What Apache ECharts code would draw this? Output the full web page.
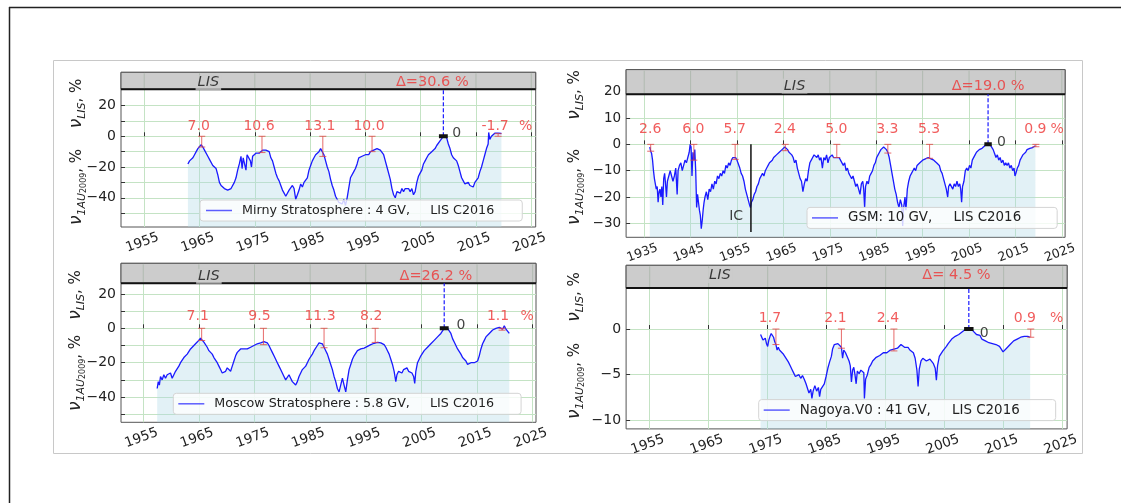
<!DOCTYPE html>
<html>
<head>
<meta charset="utf-8">
<script src="https://cdn.jsdelivr.net/npm/echarts@6/dist/echarts.min.js"></script>
<style>
  html, body { margin: 0; padding: 0; background: #fff; }
  #chart { width: 1121px; height: 503px; }
</style>
</head>
<body>
<div id="chart"></div>
<script>
// ---- Station series: [year, variation relative to 2009 at 1 AU, %] ----
const mirnyMonthly = [
  [1962.9,-18],[1963.2,-16],[1963.5,-17],[1963.8,-14],[1964.1,-12],[1964.4,-10],[1964.7,-8],[1965.0,-8],[1965.3,-5.5],[1965.6,-7],
  [1965.9,-9],[1966.2,-10],[1966.5,-13],[1966.8,-15],[1967.1,-16],[1967.4,-19],[1967.7,-18],[1968.0,-21],[1968.3,-25],[1968.6,-30],
  [1968.9,-32],[1969.2,-31],[1969.5,-34],[1969.8,-33],[1970.1,-35],[1970.4,-36],[1970.7,-34],[1971.0,-33],[1971.3,-30],[1971.6,-27],
  [1971.9,-22],[1972.2,-18],[1972.5,-13],[1972.7,-21],[1972.9,-14],[1973.2,-13],[1973.4,-22],[1973.6,-12],[1973.9,-13],[1974.2,-16],
  [1974.4,-20],[1974.6,-13],[1974.9,-12],[1975.2,-11],[1975.5,-10],[1975.8,-11],[1976.1,-10],[1976.4,-9],[1976.7,-8.5],[1977.0,-9],
  [1977.3,-9],[1977.6,-10],[1977.9,-14],[1978.2,-16],[1978.5,-20],[1978.8,-24],[1979.1,-27],[1979.4,-29],[1979.7,-32],[1980.0,-35],
  [1980.3,-37],[1980.6,-39],[1980.9,-38],[1981.2,-35],[1981.5,-36],[1981.8,-32],[1982.1,-34],[1982.4,-41],[1982.7,-38],[1983.0,-35],
  [1983.3,-31],[1983.6,-33],[1983.9,-30],[1984.2,-31],[1984.5,-27],[1984.8,-22],[1985.1,-19],[1985.4,-16],[1985.7,-14],[1986.0,-12],
  [1986.3,-11],[1986.6,-10],[1986.9,-8],[1987.2,-9],[1987.5,-12],[1987.8,-16],[1988.1,-20],[1988.4,-23],[1988.7,-28],[1989.0,-32],
  [1989.3,-35],[1989.6,-39],[1989.9,-41],[1990.2,-43],[1990.5,-42],[1990.8,-44],[1991.1,-41],[1991.4,-45],[1991.7,-40],[1992.0,-39],
  [1992.3,-27],[1992.6,-26],[1992.9,-23],[1993.2,-21],[1993.5,-18],[1993.8,-14],[1994.1,-13],[1994.4,-13],[1994.7,-12],[1995.0,-12],
  [1995.3,-11],[1995.6,-12],[1995.9,-10],[1996.2,-10],[1996.5,-9],[1996.8,-9],[1997.1,-8],[1997.4,-7],[1997.7,-9],[1998.0,-10],
  [1998.3,-12],[1998.6,-16],[1998.9,-20],[1999.2,-21],[1999.5,-28],[1999.8,-34],[2000.1,-38],[2000.4,-40],[2000.7,-36],[2001.0,-35],
  [2001.3,-37],[2001.6,-34],[2001.9,-36],[2002.2,-34],[2002.5,-35],[2002.8,-34],[2003.1,-36],[2003.4,-34],[2003.7,-38],[2004.0,-36],
  [2004.3,-30],[2004.6,-26],[2004.9,-24],[2005.2,-22],[2005.5,-18],[2005.8,-16],[2006.1,-14],[2006.4,-12],[2006.7,-11],[2007.0,-10],
  [2007.3,-10],[2007.6,-8],[2007.9,-6],[2008.2,-5],[2008.5,-3],[2008.8,-1.5],[2009.1,0],[2009.4,-0.5],[2009.7,-1],[2010.0,-5],
  [2010.3,-8],[2010.6,-12],[2010.9,-14],[2011.2,-15],[2011.5,-16],[2011.8,-19],[2012.1,-23],[2012.4,-27],[2012.7,-29],[2013.0,-31],
  [2013.3,-32],[2013.6,-30],[2013.9,-32],[2014.2,-31],[2014.5,-33],[2014.8,-30],[2015.1,-31],[2015.4,-27],[2015.7,-23],[2016.0,-20],
  [2016.3,-16],[2016.6,-12],[2016.9,-8],[2017.2,-5],[2017.3,2.5],[2017.5,-2],[2017.8,0],[2018.1,1],[2018.4,2],[2018.7,1],
  [2019.0,2],[2019.3,1.5],[2019.6,1.8]
];

const gsmMonthly = [
  [1936.2,-1],[1936.4,-2.6],[1936.6,-3.5],[1936.8,-6],[1937.0,-10],[1937.2,-13],[1937.4,-15],[1937.6,-17],[1937.8,-16],[1938.0,-22],
  [1938.2,-18],[1938.4,-17],[1938.6,-20],[1938.8,-16],[1939.0,-23],[1939.2,-13],[1939.4,-11],[1939.6,-15],[1939.8,-20],[1940.0,-14],
  [1940.3,-12],[1940.6,-10],[1940.9,-12],[1941.2,-14],[1941.5,-12],[1941.8,-9],[1942.1,-19],[1942.3,-10],[1942.6,-8],[1942.9,-7],
  [1943.2,-10],[1943.5,-8],[1943.8,-6],[1944.1,-7],[1944.4,-5],[1944.7,-3],[1944.9,0],[1945.1,-1],[1945.3,-12],[1945.5,-3],
  [1945.7,-6],[1945.9,-2],[1946.1,-10],[1946.3,-24],[1946.5,-19],[1946.7,-22],[1946.9,-25],[1947.1,-27],[1947.3,-32],[1947.5,-29],
  [1947.7,-25],[1947.9,-22],[1948.1,-20],[1948.4,-18],[1948.7,-21],[1949.0,-17],[1949.3,-18],[1949.6,-15],[1949.9,-17],[1950.2,-14],
  [1950.5,-15],[1950.8,-12],[1951.1,-13],[1951.4,-11],[1951.7,-12],[1952.0,-10],[1952.3,-11],[1952.6,-8],[1952.9,-9],[1953.2,-7],
  [1953.5,-8],[1953.8,-6],[1954.1,-5],[1954.4,-4.5],[1954.7,-5],[1955.0,-6],[1955.3,-6],[1955.6,-9],[1955.9,-11],[1956.2,-12],
  [1956.5,-14],[1956.8,-17],[1957.1,-19],[1957.4,-21],[1957.7,-23],[1957.9,-24],[1958.1,-22],[1958.4,-21],[1958.7,-19],[1959.0,-18],
  [1959.3,-16],[1959.6,-15],[1959.9,-13],[1960.2,-13],[1960.5,-11],[1960.8,-12],[1961.1,-10],[1961.4,-9],[1961.7,-8],[1962.0,-7],
  [1962.3,-7],[1962.6,-6],[1962.9,-5],[1963.2,-5],[1963.5,-4],[1963.8,-4],[1964.1,-3],[1964.4,-3],[1964.7,-2],[1965.0,-2],
  [1965.3,-1],[1965.6,-1.5],[1965.9,-2],[1966.2,-3],[1966.5,-2.5],[1966.8,-4],[1967.1,-5],[1967.4,-7],[1967.7,-6],[1968.0,-9],
  [1968.3,-11],[1968.6,-13],[1968.9,-14],[1969.2,-18],[1969.5,-15],[1969.8,-13],[1970.1,-14],[1970.4,-10],[1970.7,-7],[1971.0,-6],
  [1971.3,-5],[1971.6,-4],[1971.9,-4.5],[1972.2,-5],[1972.5,-4],[1972.8,-6],[1973.1,-5],[1973.4,-9],[1973.7,-5],[1974.0,-6],
  [1974.3,-4],[1974.6,-7],[1974.9,-5],[1975.2,-5],[1975.5,-4],[1975.8,-5],[1976.1,-5],[1976.4,-5],[1976.7,-4.5],[1977.0,-5],
  [1977.3,-6],[1977.6,-6],[1977.9,-8],[1978.2,-7],[1978.5,-10],[1978.8,-9],[1979.1,-11],[1979.4,-12],[1979.7,-13],[1980.0,-12],
  [1980.3,-14],[1980.6,-16],[1980.9,-15],[1981.2,-17],[1981.5,-19],[1981.8,-15],[1982.1,-14],[1982.3,-17],[1982.5,-24],[1982.7,-16],
  [1983.0,-14],[1983.3,-15],[1983.6,-12],[1983.9,-11],[1984.2,-10],[1984.5,-8],[1984.8,-7],[1985.1,-5],[1985.4,-4],[1985.7,-3],
  [1986.0,-2],[1986.3,-1.5],[1986.6,-1],[1986.9,-1.5],[1987.2,-2],[1987.5,-3],[1987.8,-5],[1988.1,-8],[1988.4,-11],[1988.7,-14],
  [1989.0,-17],[1989.3,-19],[1989.6,-22],[1989.9,-24],[1990.2,-21],[1990.5,-23],[1990.7,-31],[1990.9,-24],[1991.2,-20],[1991.4,-25],
  [1991.7,-17],[1992.0,-14],[1992.3,-12],[1992.6,-11],[1992.9,-10],[1993.2,-9],[1993.5,-10],[1993.8,-8],[1994.1,-8],[1994.4,-7],
  [1994.7,-7],[1995.0,-6],[1995.3,-6],[1995.6,-5.5],[1995.9,-5],[1996.2,-5],[1996.5,-5],[1996.8,-5.5],[1997.1,-5.5],[1997.4,-6],
  [1997.7,-6],[1998.0,-7],[1998.3,-7],[1998.6,-8],[1998.9,-10],[1999.2,-11],[1999.5,-13],[1999.8,-15],[2000.1,-17],[2000.4,-20],
  [2000.6,-16],[2000.9,-15],[2001.2,-15],[2001.5,-17],[2001.8,-15],[2002.1,-16],[2002.4,-14],[2002.7,-16],[2003.0,-15],[2003.2,-17],
  [2003.4,-22],[2003.6,-16],[2003.9,-14],[2004.2,-10],[2004.5,-9],[2004.8,-10],[2005.1,-8],[2005.4,-9],[2005.7,-6],[2006.0,-6],
  [2006.3,-4],[2006.6,-3],[2006.9,-3.5],[2007.2,-2],[2007.5,-2.5],[2007.8,-1.5],[2008.1,-1],[2008.4,-0.5],[2008.7,-0.5],[2009.0,0],
  [2009.3,0.2],[2009.6,-0.3],[2009.9,-0.5],[2010.2,-2],[2010.5,-3.5],[2010.8,-5],[2011.1,-4],[2011.4,-6],[2011.7,-5],[2012.0,-7],
  [2012.3,-6],[2012.6,-8],[2012.9,-7],[2013.2,-8],[2013.5,-7],[2013.8,-9],[2014.1,-8],[2014.4,-10],[2014.7,-9],[2014.9,-12],
  [2015.1,-11],[2015.4,-9],[2015.7,-8],[2016.0,-6],[2016.3,-5],[2016.6,-4],[2016.9,-3.5],[2017.2,-3],[2017.5,-2],[2017.8,-2],
  [2018.1,-1.5],[2018.4,-1],[2018.7,-1.2],[2019.0,-0.8],[2019.3,-0.5]
];

const moscowMonthly = [
  [1957.5,-35],[1957.7,-31],[1957.9,-33],[1958.1,-28],[1958.4,-30],[1958.7,-27],[1959.0,-29],[1959.3,-27],[1959.6,-28],[1959.9,-26],
  [1960.2,-29],[1960.5,-27],[1960.8,-25],[1961.1,-24],[1961.4,-22],[1961.7,-20],[1962.0,-19],[1962.3,-17],[1962.6,-16],[1962.9,-15],
  [1963.2,-14],[1963.5,-12],[1963.8,-11],[1964.1,-10],[1964.4,-9],[1964.7,-8],[1965.0,-7],[1965.3,-5.8],[1965.6,-6.5],[1965.9,-8],
  [1966.2,-9],[1966.5,-11],[1966.8,-13],[1967.1,-14],[1967.4,-15],[1967.7,-17],[1968.0,-18],[1968.3,-20],[1968.6,-22],[1968.9,-24],
  [1969.2,-26],[1969.5,-27],[1969.8,-25],[1970.1,-23],[1970.4,-24],[1970.7,-25],[1971.0,-22],[1971.3,-19],[1971.6,-16],[1971.9,-14],
  [1972.2,-13],[1972.5,-12],[1972.8,-13],[1973.1,-12],[1973.4,-11],[1973.7,-12],[1974.0,-13],[1974.3,-11],[1974.6,-10],[1974.9,-10],
  [1975.2,-9.5],[1975.5,-9],[1975.8,-9.5],[1976.1,-8.5],[1976.4,-8],[1976.7,-7.8],[1977.0,-8],[1977.3,-8.5],[1977.6,-10],[1977.9,-12],
  [1978.2,-14],[1978.5,-16],[1978.8,-18],[1979.1,-20],[1979.4,-22],[1979.7,-24],[1980.0,-26],[1980.3,-28],[1980.6,-30],[1980.9,-29],
  [1981.2,-27],[1981.5,-29],[1981.8,-31],[1982.1,-30],[1982.4,-33],[1982.7,-31],[1983.0,-28],[1983.3,-26],[1983.6,-24],[1983.9,-23],
  [1984.2,-22],[1984.5,-20],[1984.8,-18],[1985.1,-17],[1985.4,-15],[1985.7,-13],[1986.0,-12],[1986.3,-10],[1986.6,-8.5],[1986.9,-7.4],
  [1987.2,-9],[1987.5,-11],[1987.8,-13],[1988.1,-15],[1988.4,-18],[1988.7,-21],[1989.0,-24],[1989.3,-28],[1989.6,-31],[1989.9,-35],
  [1990.2,-37],[1990.5,-36],[1990.8,-29],[1991.1,-33],[1991.4,-37],[1991.7,-30],[1992.0,-24],[1992.3,-21],[1992.6,-18],[1992.9,-16],
  [1993.2,-15],[1993.5,-13],[1993.8,-12.5],[1994.1,-12],[1994.4,-11.5],[1994.7,-11.5],[1995.0,-11],[1995.3,-10.5],[1995.6,-10],[1995.9,-9.5],
  [1996.2,-9],[1996.5,-8.7],[1996.8,-8.5],[1997.1,-8.2],[1997.4,-8],[1997.7,-8.5],[1998.0,-9],[1998.3,-9.5],[1998.6,-11],[1998.9,-13],
  [1999.2,-15],[1999.5,-18],[1999.8,-21],[2000.1,-25],[2000.4,-31],[2000.6,-27],[2000.9,-25],[2001.2,-24],[2001.5,-26],[2001.8,-24],
  [2002.1,-25],[2002.4,-23],[2002.7,-25],[2003.0,-24],[2003.3,-26],[2003.6,-28],[2003.8,-32],[2004.0,-25],[2004.3,-20],[2004.6,-18],
  [2004.9,-16],[2005.2,-15],[2005.5,-13],[2005.8,-12],[2006.1,-11],[2006.4,-10],[2006.7,-9],[2007.0,-8],[2007.3,-7],[2007.6,-6],
  [2007.9,-5],[2008.2,-4],[2008.5,-3],[2008.8,-1.5],[2009.1,0],[2009.4,0.5],[2009.7,0],[2010.0,-1],[2010.3,-3],[2010.6,-6],
  [2010.9,-8],[2011.2,-10],[2011.5,-12],[2011.8,-13],[2012.1,-15],[2012.4,-17],[2012.7,-18],[2013.0,-19],[2013.3,-21],[2013.6,-22],
  [2013.9,-20],[2014.2,-21],[2014.5,-20],[2014.8,-19],[2015.1,-19],[2015.4,-16],[2015.7,-12],[2016.0,-9],[2016.3,-7],[2016.6,-5],
  [2016.9,-4],[2017.2,-3],[2017.5,-2],[2017.8,-1],[2018.1,-1.5],[2018.4,0],[2018.7,-1],[2019.0,0.5],[2019.3,1],[2019.6,-0.5],
  [2019.9,1.5],[2020.2,-0.5],[2020.5,-1.5],[2020.8,-3]
];

const nagoyaMonthly = [
  [1973.8,-0.6],[1974.0,-0.8],[1974.2,-1.2],[1974.4,-1.4],[1974.6,-1.0],[1974.8,-1.6],[1975.0,-1.9],[1975.2,-1.2],[1975.4,-0.8],[1975.6,-0.5],
  [1975.8,-0.4],[1976.0,-0.9],[1976.2,-1.4],[1976.4,-1.7],[1976.6,-2.3],[1976.8,-2.0],[1977.0,-2.3],[1977.3,-2.1],[1977.6,-2.7],[1977.9,-3.0],
  [1978.2,-3.3],[1978.5,-3.6],[1978.8,-4.0],[1979.1,-4.4],[1979.4,-4.8],[1979.7,-5.2],[1980.0,-5.3],[1980.3,-5.0],[1980.6,-5.4],[1980.9,-5.1],
  [1981.2,-5.5],[1981.5,-6.0],[1981.8,-6.2],[1982.0,-7.0],[1982.3,-6.6],[1982.5,-7.6],[1982.7,-6.8],[1983.0,-6.2],[1983.3,-6.8],[1983.6,-6.4],
  [1983.8,-7.4],[1984.0,-6.6],[1984.3,-6.3],[1984.6,-6.0],[1984.9,-5.2],[1985.2,-4.3],[1985.5,-3.6],[1985.8,-3.0],[1986.0,-2.2],[1986.3,-1.7],
  [1986.6,-1.5],[1986.9,-1.6],[1987.2,-1.4],[1987.5,-2.0],[1987.7,-3.2],[1987.9,-2.3],[1988.2,-2.6],[1988.5,-2.4],[1988.8,-3.5],[1989.0,-4.0],
  [1989.2,-5.8],[1989.4,-4.5],[1989.6,-4.2],[1989.8,-5.0],[1990.0,-6.0],[1990.2,-4.6],[1990.5,-4.9],[1990.8,-4.5],[1991.1,-4.3],[1991.3,-4.8],
  [1991.4,-7.6],[1991.6,-5.5],[1991.9,-5.0],[1992.2,-4.2],[1992.5,-3.9],[1992.8,-3.5],[1993.1,-3.3],[1993.4,-3.1],[1993.7,-3.0],[1994.0,-2.9],
  [1994.3,-2.8],[1994.6,-2.6],[1994.9,-2.7],[1995.2,-2.6],[1995.5,-2.4],[1995.8,-2.3],[1996.1,-2.3],[1996.4,-2.2],[1996.7,-2.0],[1997.0,-2.1],
  [1997.3,-1.9],[1997.6,-1.7],[1997.9,-1.9],[1998.2,-2.0],[1998.5,-2.1],[1998.8,-2.0],[1999.1,-2.3],[1999.4,-2.4],[1999.7,-2.6],[2000.0,-3.2],
  [2000.3,-4.5],[2000.5,-6.3],[2000.7,-4.4],[2001.0,-3.5],[2001.3,-3.2],[2001.6,-3.1],[2001.9,-3.5],[2002.2,-3.6],[2002.5,-3.3],[2002.8,-3.4],
  [2003.1,-3.8],[2003.4,-4.3],[2003.6,-5.6],[2003.8,-4.0],[2004.1,-3.0],[2004.4,-2.8],[2004.7,-2.4],[2005.0,-2.3],[2005.3,-1.9],[2005.6,-1.6],
  [2005.9,-1.4],[2006.2,-1.1],[2006.5,-1.0],[2006.8,-0.8],[2007.1,-0.8],[2007.4,-0.6],[2007.7,-0.4],[2008.0,-0.3],[2008.3,-0.2],[2008.6,0.0],
  [2008.9,0.1],[2009.2,0.1],[2009.5,0.0],[2009.8,-0.2],[2010.1,-0.3],[2010.4,-0.6],[2010.7,-0.8],[2011.0,-0.7],[2011.3,-1.1],[2011.6,-0.9],
  [2011.9,-1.3],[2012.2,-1.2],[2012.5,-1.5],[2012.8,-1.3],[2013.1,-1.6],[2013.4,-1.4],[2013.7,-1.7],[2014.0,-1.6],[2014.3,-1.9],[2014.6,-2.2],
  [2014.9,-2.5],[2015.2,-2.3],[2015.5,-2.1],[2015.8,-1.9],[2016.1,-1.7],[2016.4,-1.5],[2016.7,-1.3],[2017.0,-1.2],[2017.3,-1.1],[2017.6,-1.0],
  [2017.9,-0.9],[2018.2,-0.9],[2018.5,-0.8],[2018.8,-0.9],[2019.1,-0.8],[2019.5,-0.9]
];

// ---- Solar-minimum offsets from the 2009 level (%), and where they sit in time ----
const mirnyPeakYears  = [1965.4, 1976.3, 1987.3, 1996.2, 2019.0];
const mirnyPeakValues = [7.0, 10.6, 13.1, 10.0, -1.7];
const gsmPeakYears    = [1936.4, 1945.7, 1954.6, 1965.4, 1976.5, 1987.5, 1996.5, 2019.4];
const gsmPeakValues   = [2.6, 6.0, 5.7, 2.4, 5.0, 3.3, 5.3, 0.9];
const moscowPeakYears  = [1965.5, 1976.6, 1987.5, 1996.7, 2019.5];
const moscowPeakValues = [7.1, 9.5, 11.3, 8.2, 1.1];
const nagoyaPeakYears  = [1976.4, 1987.5, 1996.4, 2019.6];
const nagoyaPeakValues = [1.7, 2.1, 2.4, 0.9];

// ---- Per-station constants ----
const stationNames = [
  'Mirny Stratosphere : 4 GV,     LIS C2016',
  'GSM: 10 GV,     LIS C2016',
  'Moscow Stratosphere : 5.8 GV,     LIS C2016',
  'Nagoya.V0 : 41 GV,     LIS C2016'
];
const deltaLIS = [30.6, 19.0, 26.2, 4.5];     // distance from the 2009 level up to the LIS, %
const refYear = 2009.1;                        // normalisation epoch
const refPeriod = [2008.3, 2009.9];            // span of the reference level
const icMarker = [1958.0, 0, -33.3];           // IC epoch in GSM: year, top, bottom

// ---- Tick values and tick labels ----
const yearTicksFrom1955 = [1955, 1965, 1975, 1985, 1995, 2005, 2015, 2025];
const yearTicksFrom1935 = [1935, 1945, 1955, 1965, 1975, 1985, 1995, 2005, 2015, 2025];
const yGridStratosphere = [-50, -40, -30, -20, -10, 0, 10, 20];
const yLabelsStratosphere = [-40, -20, 0, 20];
const yGridGsm = [-30, -20, -10, 0, 10, 20];
const yLabelsGsm = [-30, -20, -10, 0, 10, 20];
const yGridNagoya = [-10, -5, 0];
const yLabelsNagoya = [-10, -5, 0];

// ---- Styling ----
const FONT = "'DejaVu Sans', sans-serif";
const RED = '#ee3535';
const BLUE = '#1a1aff';
const GRID_GREEN = '#c4e3c4';
const HEADER_GRAY = '#cccccc';
const TEXT = '#222';

const panels = [
  { data: mirnyMonthly, name: stationNames[0], delta: deltaLIS[0], peakYears: mirnyPeakYears, peaks: mirnyPeakValues,
    rect: { left: 121, top: 72.3, width: 414.7, height: 154.7 }, x: [1950.8, 2025.8], y: [-59.0, 41.6],
    xTicks: yearTicksFrom1955, yTicks: yGridStratosphere, yLabels: yLabelsStratosphere, xFont: 13.5, yFont: 14,
    peakDx: -3, peakDy: 9.6, zeroYear: 2011.5, zeroDy: -3, headDy: 6.5, lisYear: 1966.6, deltaYear: 2007.1,
    legend: { left: 200, top: 200, padding: [4, 28, 4, 6], fontSize: 12.7 },
    yName: { x: 77, y1: 103.5, y2: 187 } },
  { data: gsmMonthly, name: stationNames[1], delta: deltaLIS[1], peakYears: gsmPeakYears, peaks: gsmPeakValues,
    rect: { left: 626.1, top: 69.6, width: 439, height: 167.7 }, x: [1931.1, 2025.7], y: [-35.3, 28.4],
    xTicks: yearTicksFrom1935, yTicks: yGridGsm, yLabels: yLabelsGsm, xFont: 12.5, yFont: 13.5,
    peakDx: -0.5, peakDy: 15.5, zeroYear: 2012.0, zeroDy: -2, headDy: 8.3, lisYear: 1967.4, deltaYear: 2009.1,
    legend: { left: 807, top: 207.4, padding: [4, 36, 4, 5], fontSize: 13.4 },
    yName: { x: 575, y1: 95, y2: 187 }, ic: true },
  { data: moscowMonthly, name: stationNames[2], delta: deltaLIS[2], peakYears: moscowPeakYears, peaks: moscowPeakValues,
    rect: { left: 121, top: 263.3, width: 415, height: 159 }, x: [1951.0, 2025.6], y: [-54.65, 37.8],
    xTicks: yearTicksFrom1955, yTicks: yGridStratosphere, yLabels: yLabelsStratosphere, xFont: 13.5, yFont: 14,
    peakDx: -4, peakDy: 11.6, zeroYear: 2012.1, zeroDy: -3.3, headDy: 7, lisYear: 1966.8, deltaYear: 2007.6,
    legend: { left: 173.3, top: 393.3, padding: [4, 27, 4, 5], fontSize: 12.7 },
    yName: { x: 76, y1: 295, y2: 373 } },
  { data: nagoyaMonthly, name: stationNames[3], delta: deltaLIS[3], peakYears: nagoyaPeakYears, peaks: nagoyaPeakValues,
    rect: { left: 626.1, top: 265.3, width: 441, height: 163.6 }, x: [1951.0, 2025.76], y: [-10.94, 6.98],
    xTicks: yearTicksFrom1955, yTicks: yGridNagoya, yLabels: yLabelsNagoya, xFont: 13.5, yFont: 14,
    peakDx: -6, peakDy: 10.3, zeroYear: 2011.7, zeroDy: 4.5, headDy: 12.4, lisYear: 1966.9, deltaYear: 2007.0,
    legend: { left: 758.7, top: 399.6, padding: [4, 36, 4, 5], fontSize: 13.4 },
    yName: { x: 575, y1: 297, y2: 381 } }
];

function minusFmt(v) { return v < 0 ? '\u2212' + Math.abs(v) : String(v); }
function yearFmt(v) { return String(v); }
function deltaText(v) { const s = v.toFixed(1); return 'Δ=' + (s.length < 4 ? ' ' + s : s) + ' %'; }

const option = { animation: false, grid: [], xAxis: [], yAxis: [], series: [], legend: [], graphic: [] };

panels.forEach((p, i) => {
  option.grid.push({
    left: p.rect.left, top: p.rect.top, width: p.rect.width, height: p.rect.height,
    show: true, borderColor: '#555', borderWidth: 1, backgroundColor: 'transparent'
  });
  option.xAxis.push({
    type: 'value', gridIndex: i, min: p.x[0], max: p.x[1],
    axisLine: { show: false },
    axisTick: { show: true, inside: true, length: 4, customValues: p.xTicks, lineStyle: { color: '#333' } },
    axisLabel: { customValues: p.xTicks, formatter: yearFmt, rotate: 20, align: 'center', verticalAlign: 'middle', margin: 15,
      padding: [0, 4, 0, 0], fontSize: p.xFont, color: TEXT, fontFamily: FONT },
    splitLine: { show: true, lineStyle: { color: GRID_GREEN, width: 1 } }
  });
  option.yAxis.push({
    type: 'value', gridIndex: i, min: p.y[0], max: p.y[1],
    axisLine: { show: false },
    axisTick: { show: true, inside: true, length: 4, customValues: p.yTicks, lineStyle: { color: '#333' } },
    axisLabel: { customValues: p.yLabels, formatter: minusFmt, margin: 5, fontSize: p.yFont, color: TEXT, fontFamily: FONT },
    splitLine: { show: true, lineStyle: { color: GRID_GREEN, width: 1 } }
  });

  const ax = { xAxisIndex: i, yAxisIndex: i, silent: true };

  // station curve with its filled area
  option.series.push(Object.assign({
    type: 'line', name: p.name, data: p.data, symbol: 'none', z: 2,
    lineStyle: { color: BLUE, width: 1.3 },
    itemStyle: { color: 'rgba(40,40,255,0.75)' },
    areaStyle: { color: 'rgba(173,216,230,0.5)', origin: 'start' }
  }, ax));

  // LIS band above the curve: grey strip, its vertical grid lines, black base line
  option.series.push(Object.assign({
    type: 'custom', z: 5, data: [[p.delta]],
    renderItem: (params, api) => {
      const tl = api.coord([p.x[0], p.y[1]]);
      const br = api.coord([p.x[1], p.delta]);
      const kids = [{ type: 'rect', shape: { x: tl[0], y: tl[1], width: br[0] - tl[0], height: br[1] - tl[1] },
        style: { fill: HEADER_GRAY, stroke: '#555', lineWidth: 1 } }];
      p.xTicks.forEach(t => {
        const a = api.coord([t, p.y[1]]), b = api.coord([t, p.delta]);
        kids.push({ type: 'line', shape: { x1: a[0], y1: a[1] + 1, x2: b[0], y2: b[1] }, style: { stroke: '#b0bab0', lineWidth: 1 } });
      });
      kids.push({ type: 'line', shape: { x1: tl[0], y1: br[1], x2: br[0], y2: br[1] }, style: { stroke: '#111', lineWidth: 2 } });
      return { type: 'group', children: kids };
    }
  }, ax));

  // dashed line from the 2009 level up to the LIS
  option.series.push(Object.assign({
    type: 'line', data: [[refYear, 0], [refYear, p.delta]], symbol: 'none', z: 6,
    lineStyle: { color: BLUE, width: 1.2, type: [4, 2] }
  }, ax));

  // reference level
  option.series.push(Object.assign({
    type: 'line', data: [[refPeriod[0], 0], [refPeriod[1], 0]], symbol: 'none', z: 6,
    lineStyle: { color: '#111', width: 4 }
  }, ax));

  // offsets at the solar minima, drawn as capped bars from 0 down to −value
  option.series.push(Object.assign({
    type: 'custom', z: 6, data: p.peakYears.map((yr, k) => [yr, p.peaks[k]]),
    renderItem: (params, api) => {
      const yr = api.value(0), v = api.value(1);
      const a = api.coord([yr, 0]), b = api.coord([yr, -v]);
      const st = { stroke: 'rgba(225,70,70,0.8)', lineWidth: 1 };
      const cw = 3.5;
      return { type: 'group', children: [
        { type: 'line', shape: { x1: a[0], y1: a[1], x2: b[0], y2: b[1] }, style: st },
        { type: 'line', shape: { x1: a[0] - cw, y1: a[1], x2: a[0] + cw, y2: a[1] }, style: st },
        { type: 'line', shape: { x1: b[0] - cw, y1: b[1], x2: b[0] + cw, y2: b[1] }, style: st }
      ] };
    }
  }, ax));

  if (p.ic) {
    option.series.push(Object.assign({
      type: 'line', data: [[icMarker[0], icMarker[1]], [icMarker[0], icMarker[2]]], symbol: 'none', z: 6,
      lineStyle: { color: '#111', width: 1.5 }
    }, ax));
  }

  // text annotations anchored to data coordinates
  const redLabel = { color: RED, fontSize: 14, fontFamily: FONT };
  const texts = p.peakYears.map((yr, k) => ({
    value: [yr, 0],
    label: Object.assign({ formatter: p.peaks[k].toFixed(1), offset: [p.peakDx, -p.peakDy] }, redLabel)
  }));
  texts.push({ value: [2024, 0], label: Object.assign({ formatter: '%', offset: [0, -p.peakDy] }, redLabel) });
  texts.push({ value: [p.zeroYear, 0], label: { formatter: '0', color: '#111', fontSize: 14, fontFamily: FONT, offset: [0, p.zeroDy] } });
  texts.push({ value: [p.deltaYear, p.delta], label: Object.assign({}, redLabel, { formatter: deltaText(p.delta), fontSize: 14.5, offset: [0, -p.headDy] }) });
  texts.push({ value: [p.lisYear, p.delta], label: { formatter: 'LIS', color: '#111', fontStyle: 'italic', fontSize: 14.5,
    fontFamily: FONT, backgroundColor: HEADER_GRAY, padding: [0, 2], offset: [0, -p.headDy] } });
  if (p.ic) {
    texts.push({ value: [1954.8, -27.5], label: { formatter: 'IC', color: '#111', fontSize: 14, fontFamily: FONT } });
  }
  option.series.push(Object.assign({
    type: 'scatter', z: 10, symbolSize: 1, itemStyle: { color: 'rgba(0,0,0,0)' },
    label: { show: true, position: 'inside' }, data: texts
  }, ax));

  option.legend.push({
    data: [p.name], left: p.legend.left, top: p.legend.top, padding: p.legend.padding,
    backgroundColor: 'rgba(255,255,255,0.8)', borderColor: '#d4d4d4', borderWidth: 1, borderRadius: 3,
    icon: 'rect', itemWidth: 26, itemHeight: 1.5, selectedMode: false,
    textStyle: { fontSize: p.legend.fontSize, color: TEXT, fontFamily: FONT, padding: [0, 0, 0, 5] }
  });

  // two-part y-axis title
  const rich = {
    v: { fontSize: 17, fontStyle: 'italic', fontFamily: FONT, fill: TEXT, lineHeight: 22 },
    s: { fontSize: 11, fontStyle: 'italic', fontFamily: FONT, fill: TEXT, lineHeight: 12, verticalAlign: 'bottom' },
    d: { fontSize: 8, fontFamily: FONT, fill: TEXT, lineHeight: 8, verticalAlign: 'bottom' },
    t: { fontSize: 15, fontFamily: FONT, fill: TEXT, lineHeight: 22 }
  };
  option.graphic.push({ type: 'text', x: p.yName.x, y: p.yName.y1, rotation: Math.PI / 2, silent: true,
    style: { text: '{v|ν}{s|LIS}{t|, %}', rich, align: 'center', verticalAlign: 'middle' } });
  option.graphic.push({ type: 'text', x: p.yName.x, y: p.yName.y2, rotation: Math.PI / 2, silent: true,
    style: { text: '{v|ν}{s|1AU}{d|2009}{t|, %}', rich, align: 'center', verticalAlign: 'middle' } });
});

// page frames
option.graphic.push(
  { type: 'rect', silent: true, shape: { x: 53.5, y: 60.5, width: 1029, height: 393 }, style: { fill: 'none', stroke: '#c8c8c8', lineWidth: 1 } },
  { type: 'line', silent: true, shape: { x1: 9, y1: 7.5, x2: 1121, y2: 7.5 }, style: { stroke: '#222', lineWidth: 1.5 } },
  { type: 'line', silent: true, shape: { x1: 9.5, y1: 7, x2: 9.5, y2: 503 }, style: { stroke: '#222', lineWidth: 1.5 } }
);

const chart = echarts.init(document.getElementById('chart'), null, { renderer: 'canvas' });
chart.setOption(option);
</script>
</body>
</html>
